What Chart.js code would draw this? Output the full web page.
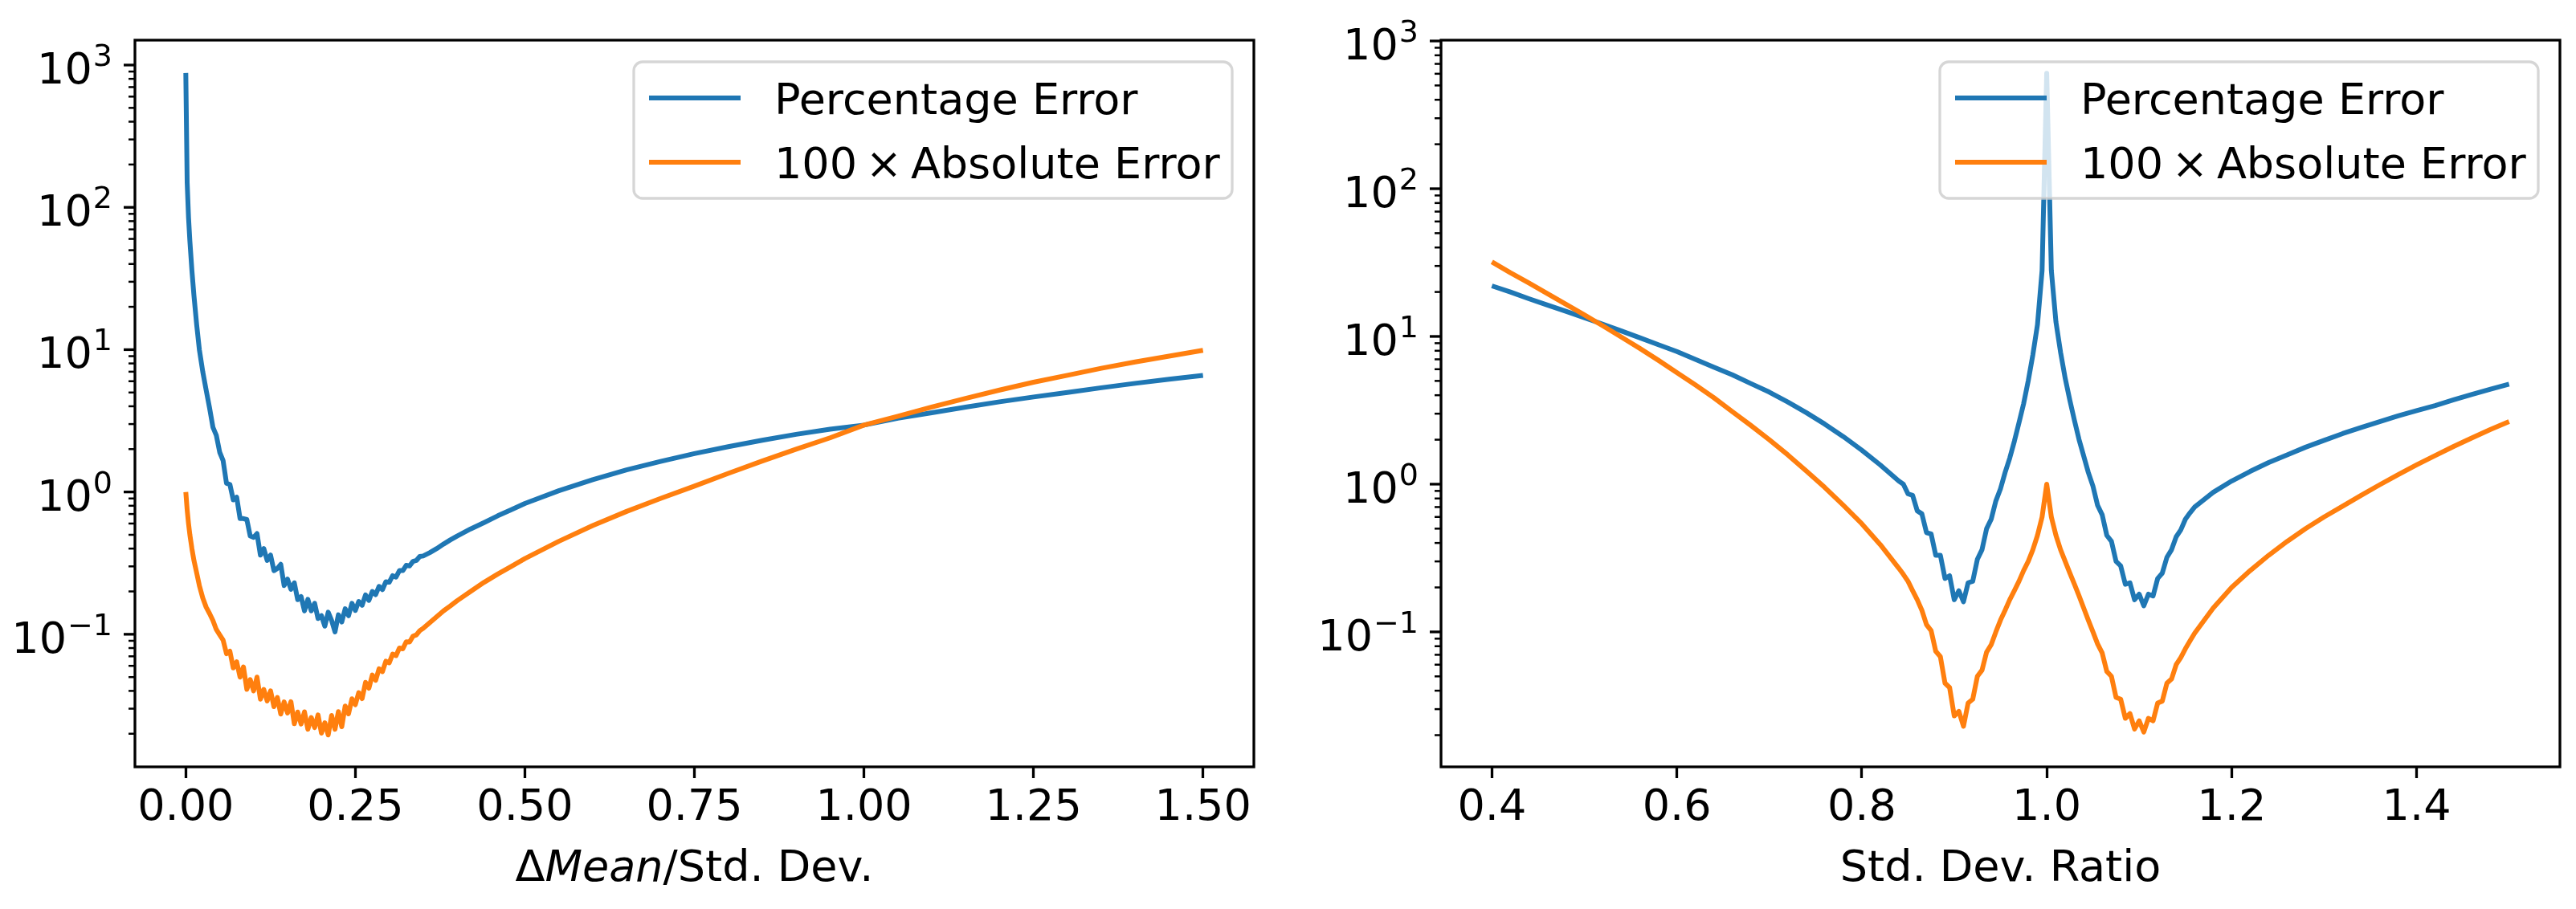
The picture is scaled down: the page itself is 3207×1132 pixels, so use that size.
<!DOCTYPE html>
<html lang="en">
<head>
<meta charset="UTF-8">
<title>Percentage vs absolute error</title>
<style>
  body { margin: 0; background: #FFFFFF; }
  #wrap { position: relative; width: 3207px; height: 1132px; }
  canvas { position: absolute; left: 0; top: 0; }
</style>
<script src="https://cdn.jsdelivr.net/npm/chart.js"></script>
</head>
<body>
<div id="wrap">
  <canvas id="leftChart" width="3207" height="1132"></canvas>
  <canvas id="rightChart" width="3207" height="1132"></canvas>
</div>
<script>
const FONT = "'DejaVu Sans', sans-serif";
const BLUE = '#1f77b4';
const ORANGE = '#ff7f0e';

const legendLabels = ['Percentage Error', '100\u2009\u00d7\u2009Absolute Error'];
const yDecades = [-1, 0, 1, 2, 3]; // labelled powers of ten

// ---- left panel: ΔMean / Std. Dev. ----
const xLeft = [0, 0.002, 0.004, 0.006, 0.009, 0.012, 0.016, 0.02, 0.025, 0.03, 0.035, 0.04, 0.045, 0.05,
  0.055, 0.06, 0.065, 0.07, 0.075, 0.08, 0.085, 0.09, 0.095, 0.1,
  0.105, 0.11, 0.115, 0.12, 0.125, 0.13, 0.135, 0.14, 0.145, 0.15,
  0.155, 0.16, 0.165, 0.17, 0.175, 0.18, 0.185, 0.19, 0.195, 0.2,
  0.205, 0.21, 0.215, 0.22, 0.225, 0.23, 0.235, 0.24, 0.245, 0.25,
  0.255, 0.26, 0.265, 0.27, 0.275, 0.28, 0.285, 0.29, 0.295, 0.3,
  0.305, 0.31, 0.315, 0.32, 0.325, 0.33, 0.335, 0.34, 0.345, 0.35,
  0.36, 0.37, 0.38, 0.39, 0.4, 0.42, 0.44, 0.46, 0.48, 0.5,
  0.55, 0.6, 0.65, 0.7, 0.75, 0.8, 0.85, 0.9, 0.95, 1.0,
  1.05, 1.1, 1.15, 1.2, 1.25, 1.3, 1.35, 1.4, 1.45, 1.5];
const pctLeft = [880, 150, 85, 58, 36, 24, 15, 10, 7, 5.2, 3.9, 2.85, 2.5, 1.9,
  1.66, 1.15, 1.13, 0.88, 0.92, 0.65, 0.65, 0.64, 0.49, 0.48,
  0.51, 0.36, 0.40, 0.33, 0.36, 0.28, 0.29, 0.31, 0.22, 0.244,
  0.207, 0.23, 0.175, 0.184, 0.146, 0.176, 0.146, 0.165, 0.129, 0.135,
  0.114, 0.143, 0.125, 0.104, 0.137, 0.122, 0.151, 0.135, 0.165, 0.147,
  0.17, 0.16, 0.189, 0.173, 0.2, 0.19, 0.217, 0.206, 0.234, 0.232,
  0.258, 0.252, 0.28, 0.28, 0.305, 0.302, 0.325, 0.33, 0.352, 0.355,
  0.375, 0.4, 0.43, 0.46, 0.49, 0.55, 0.61, 0.68, 0.75, 0.83,
  1.02, 1.22, 1.43, 1.64, 1.86, 2.08, 2.31, 2.54, 2.76, 2.95,
  3.3, 3.6, 3.95, 4.3, 4.65, 5.0, 5.4, 5.8, 6.2, 6.6];
const absLeft = [1.0, 0.75, 0.6, 0.5, 0.4, 0.33, 0.27, 0.22, 0.18, 0.155, 0.14, 0.125, 0.108, 0.099,
  0.091, 0.073, 0.076, 0.058, 0.064, 0.050, 0.059, 0.041, 0.048, 0.040,
  0.050, 0.035, 0.041, 0.034, 0.040, 0.031, 0.036, 0.0275, 0.0335, 0.028,
  0.0336, 0.0235, 0.0284, 0.0234, 0.0285, 0.0215, 0.026, 0.0221, 0.0271, 0.0202,
  0.0239, 0.0196, 0.0269, 0.0215, 0.0286, 0.0224, 0.0313, 0.0276, 0.0352, 0.032,
  0.0389, 0.0353, 0.0459, 0.0418, 0.0517, 0.0475, 0.0572, 0.0547, 0.0647, 0.063,
  0.0725, 0.0708, 0.080, 0.079, 0.0886, 0.0882, 0.0969, 0.099, 0.106, 0.110,
  0.121, 0.133, 0.146, 0.158, 0.172, 0.2, 0.232, 0.265, 0.3, 0.34,
  0.45, 0.58, 0.73, 0.9, 1.1, 1.35, 1.65, 2.0, 2.4, 2.95,
  3.4, 3.95, 4.55, 5.2, 5.9, 6.6, 7.4, 8.2, 9.0, 9.9];
const xTicksLeft = [0, 0.25, 0.5, 0.75, 1.0, 1.25, 1.5];

// ---- right panel: Std. Dev. Ratio ----
const xRight = [0.4, 0.42, 0.44, 0.46, 0.48, 0.5, 0.52, 0.54, 0.56, 0.58, 0.6, 0.62, 0.64, 0.66, 0.68, 0.7,
  0.72, 0.74, 0.76, 0.78, 0.8, 0.82, 0.84,
  0.845, 0.85, 0.855, 0.86, 0.865, 0.87, 0.875, 0.88, 0.885, 0.89, 0.895, 0.9, 0.905, 0.91, 0.915, 0.92,
  0.925, 0.93, 0.935, 0.94, 0.945, 0.95, 0.955, 0.96, 0.965, 0.97, 0.975, 0.98, 0.985, 0.99, 0.995,
  1.0,
  1.005, 1.01, 1.015, 1.02, 1.025, 1.03, 1.035, 1.04, 1.045, 1.05, 1.055, 1.06, 1.065, 1.07, 1.075, 1.08,
  1.085, 1.09, 1.095, 1.1, 1.105, 1.11, 1.115, 1.12, 1.125, 1.13, 1.135, 1.14, 1.145, 1.15, 1.155,
  1.16, 1.18, 1.2, 1.22, 1.24, 1.26, 1.28, 1.3, 1.32, 1.34, 1.36, 1.38, 1.4, 1.42, 1.44, 1.46, 1.48, 1.5];
const pctRight = [22, 20, 18, 16.3, 14.8, 13.4, 12.1, 10.9, 9.8, 8.8, 7.9, 7.0, 6.2, 5.5, 4.8, 4.2,
  3.6, 3.05, 2.55, 2.1, 1.7, 1.35, 1.05,
  1.0, 0.86, 0.84, 0.66, 0.63, 0.47, 0.46, 0.33, 0.33, 0.23, 0.24, 0.165, 0.19, 0.16, 0.215, 0.22,
  0.31, 0.36, 0.5, 0.58, 0.77, 0.93, 1.2, 1.5, 1.95, 2.6, 3.5, 5.0, 7.5, 12, 28,
  605,
  28, 12.5, 7.8, 5.2, 3.7, 2.7, 2.0, 1.55, 1.2, 0.97, 0.72, 0.62, 0.45, 0.41, 0.3, 0.28,
  0.21, 0.215, 0.165, 0.18, 0.15, 0.18, 0.175, 0.23, 0.25, 0.32, 0.36, 0.44, 0.49, 0.58, 0.64,
  0.7, 0.88, 1.05, 1.22, 1.4, 1.58, 1.78, 1.98, 2.2, 2.42, 2.65, 2.9, 3.15, 3.4, 3.72, 4.05, 4.4, 4.75];
const absRight = [32, 27, 23, 19.5, 16.5, 14, 11.8, 9.9, 8.3, 6.9, 5.7, 4.7, 3.85, 3.1, 2.5, 2.0,
  1.58, 1.23, 0.95, 0.72, 0.54, 0.39, 0.27,
  0.245, 0.22, 0.19, 0.165, 0.14, 0.112, 0.102, 0.074, 0.068, 0.045, 0.042, 0.027, 0.029, 0.023, 0.033, 0.035,
  0.05, 0.055, 0.073, 0.082, 0.1, 0.12, 0.14, 0.165, 0.19, 0.22, 0.26, 0.3, 0.36, 0.45, 0.6,
  1.0,
  0.6, 0.45, 0.36, 0.3, 0.25, 0.21, 0.175, 0.145, 0.12, 0.1, 0.083, 0.072, 0.054, 0.05, 0.036, 0.035,
  0.026, 0.028, 0.022, 0.025, 0.021, 0.026, 0.025, 0.033, 0.034, 0.045, 0.048, 0.06, 0.067, 0.077, 0.087,
  0.098, 0.145, 0.2, 0.26, 0.33, 0.41, 0.5, 0.6, 0.71, 0.84, 0.99, 1.16, 1.35, 1.56, 1.8, 2.06, 2.35, 2.65];
const xTicksRight = [0.4, 0.6, 0.8, 1.0, 1.2, 1.4];

// frame, log ticks, x title and legend are drawn over the datasets
function panelPlugin(titleParts) {
  return {
    id: 'panel',
    afterDatasetsDraw(chart) {
      const ctx = chart.ctx;
      const a = chart.chartArea;
      const y = chart.scales.y;
      ctx.save();

      // axes frame
      ctx.strokeStyle = '#000';
      ctx.lineWidth = 3.3;
      ctx.strokeRect(a.left, a.top, a.right - a.left, a.bottom - a.top);

      // log ticks (major + minor)
      for (let d = -3; d <= 4; d++) {
        for (let m = 1; m <= 9; m++) {
          const v = m * Math.pow(10, d);
          if (v < y.min || v > y.max) continue;
          const py = y.getPixelForValue(v);
          ctx.lineWidth = m === 1 ? 3.3 : 2.5;
          ctx.beginPath();
          ctx.moveTo(a.left, py);
          ctx.lineTo(a.left - (m === 1 ? 14 : 8), py);
          ctx.stroke();
        }
      }

      // 10^n labels
      ctx.fillStyle = '#000';
      ctx.textBaseline = 'alphabetic';
      yDecades.forEach(e => {
        const v = Math.pow(10, e);
        if (v < y.min || v > y.max) return;
        const py = y.getPixelForValue(v);
        const exp = e < 0 ? '\u2212' + (-e) : String(e);
        const right = a.left - 28;
        ctx.font = '38px ' + FONT;
        const wExp = ctx.measureText(exp).width;
        ctx.textAlign = 'left';
        ctx.fillText(exp, right - wExp, py + 1);
        ctx.font = '54px ' + FONT;
        ctx.textAlign = 'right';
        ctx.fillText('10', right - wExp - 1, py + 23);
      });

      // x axis title (mixed upright / italic)
      let total = 0;
      titleParts.forEach(p => {
        ctx.font = (p.italic ? 'italic ' : '') + '54px ' + FONT;
        p.w = ctx.measureText(p.text).width;
        total += p.w;
      });
      let tx = (a.left + a.right) / 2 - total / 2;
      ctx.textAlign = 'left';
      titleParts.forEach(p => {
        ctx.font = (p.italic ? 'italic ' : '') + '54px ' + FONT;
        ctx.fillText(p.text, tx, a.bottom + 142);
        tx += p.w;
      });

      // legend, upper right
      const w = 745, h = 170;
      const x0 = a.right - 27 - w, y0 = a.top + 27;
      ctx.beginPath();
      ctx.roundRect(x0, y0, w, h, 11);
      ctx.fillStyle = 'rgba(255,255,255,0.8)';
      ctx.fill();
      ctx.strokeStyle = 'rgba(204,204,204,0.8)';
      ctx.lineWidth = 3.3;
      ctx.stroke();
      chart.data.datasets.forEach((ds, i) => {
        const ly = y0 + 45 + i * 80;
        ctx.strokeStyle = ds.borderColor;
        ctx.lineWidth = 6;
        ctx.beginPath();
        ctx.moveTo(x0 + 19, ly);
        ctx.lineTo(x0 + 133, ly);
        ctx.stroke();
        ctx.fillStyle = '#000';
        ctx.font = '54px ' + FONT;
        ctx.fillText(ds.label, x0 + 175, ly + 20);
      });
      ctx.restore();
    }
  };
}

function makeChart(id, xs, pct, abs, xTicks, decimals, xRange, yRange, padding, titleParts) {
  const line = (label, color, vals, order) => ({
    label: label,
    data: xs.map((x, i) => ({ x: x, y: vals[i] })),
    borderColor: color,
    borderWidth: 6,
    pointRadius: 0,
    tension: 0,
    borderJoinStyle: 'round',
    fill: false,
    order: order
  });
  return new Chart(document.getElementById(id), {
    type: 'line',
    data: {
      datasets: [
        line(legendLabels[0], BLUE, pct, 1),
        line(legendLabels[1], ORANGE, abs, 0)
      ]
    },
    options: {
      responsive: false,
      devicePixelRatio: 1,
      animation: false,
      events: [],
      layout: { padding: padding },
      plugins: { legend: { display: false }, tooltip: { enabled: false } },
      scales: {
        x: {
          type: 'linear',
          min: xRange[0],
          max: xRange[1],
          afterFit: s => { s.height = 177; },
          afterBuildTicks: s => { s.ticks = xTicks.map(v => ({ value: v })); },
          ticks: {
            autoSkip: false,
            maxRotation: 0,
            minRotation: 0,
            padding: 6,
            color: '#000',
            font: { family: FONT, size: 54, lineHeight: 1.2 },
            callback: v => Number(v).toFixed(decimals)
          },
          grid: {
            display: true,
            drawOnChartArea: false,
            drawTicks: true,
            tickLength: 14,
            tickWidth: 3.3,
            tickColor: '#000',
            color: '#000'
          },
          border: { display: false }
        },
        y: {
          type: 'logarithmic',
          min: yRange[0],
          max: yRange[1],
          afterFit: s => { s.width = 150; },
          ticks: { display: false },
          grid: { display: false },
          border: { display: false }
        }
      }
    },
    plugins: [panelPlugin(titleParts)]
  });
}

makeChart('leftChart', xLeft, pctLeft, absLeft, xTicksLeft, 2,
  [-0.075, 1.575], [0.0117, 1496],
  { left: 18, top: 50, right: 1646, bottom: 0 },
  [{ text: '\u0394', italic: false }, { text: 'Mean', italic: true }, { text: '/Std. Dev.', italic: false }]);

makeChart('rightChart', xRight, pctRight, absRight, xTicksRight, 1,
  [0.345, 1.555], [0.0122, 1013],
  { left: 1644, top: 50, right: 20, bottom: 0 },
  [{ text: 'Std. Dev. Ratio', italic: false }]);
</script>
</body>
</html>
